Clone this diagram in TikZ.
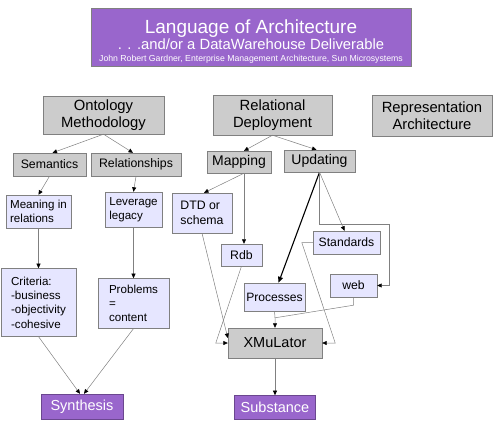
\documentclass[tikz,border=0pt]{standalone}
\usepackage{fontspec}
\setmainfont{Liberation Sans}
\usetikzlibrary{arrows.meta,positioning}
\definecolor{lav}{RGB}{230,230,255}
\definecolor{purp}{RGB}{153,102,204}

\begin{document}
\begin{tikzpicture}[
  x=1pt, y=-1pt,
  box/.style={rectangle, draw=gray, fill=gray!40, inner sep=2pt, align=center},
  bigbox/.style={box, font=\fontsize{14.8}{17}\selectfont},
  subbox/.style={box, font=\fontsize{12.3}{14}\selectfont, minimum height=23pt},
  leafbox/.style={box, fill=lav, align=left, font=\fontsize{11.6}{14.3}\selectfont},
  outbox/.style={rectangle, draw=purp!70!black, fill=purp, text=white, font=\fontsize{14.5}{17}\selectfont, minimum height=25pt},
  arr/.style={draw=gray, line width=0.5pt, -{Triangle[length=4.5pt, width=4pt, color=black]}},
  thickarr/.style={draw=black, line width=1.1pt, -{Triangle[length=6pt, width=5pt]}}
]
\useasboundingbox (0,0) rectangle (504,432);

\node[rectangle, draw=gray, fill=purp, text=white, minimum width=320pt, minimum height=58pt, inner sep=0pt, align=center] (title) at (251,37)
  {\fontsize{19}{22}\selectfont\rule{0pt}{23pt}Language of Architecture\\
   \fontsize{14.8}{22}\selectfont . . .and/or a DataWarehouse Deliverable\\
   \fontsize{8.7}{10}\selectfont John Robert Gardner, Enterprise Management Architecture, Sun Microsystems};

\node[bigbox, minimum width=121pt, minimum height=38pt] (onto) at (103.5,115) {Ontology\\Methodology};
\node[bigbox, minimum width=119pt, minimum height=40pt] (reldep) at (272.5,115) {Relational\\Deployment};
\node[bigbox, minimum width=120pt, minimum height=41pt] (repr) at (432,115.5) {Representation\\Architecture};

\node[subbox, minimum width=73pt] (sem) at (49.5,164.5) {Semantics};
\node[subbox, minimum width=90pt] (rel) at (136,164.5) {Relationships};
\node[subbox, minimum width=64pt, minimum height=22pt, font=\fontsize{14}{16}\selectfont] (map) at (239,162) {Mapping};
\node[subbox, minimum width=71pt, minimum height=22pt, font=\fontsize{14}{16}\selectfont] (upd) at (319.5,161) {Updating};

\node[leafbox, minimum width=65pt, minimum height=33pt] (meaning) at (38.5,211.5) {Meaning in\\relations};
\node[leafbox, minimum width=57pt, minimum height=35pt] (leverage) at (133.5,209.5) {Leverage\\legacy};
\node[leafbox, minimum width=60pt, minimum height=40pt, font=\fontsize{12.3}{15}\selectfont] (dtd) at (202,213) {DTD or\\schema};
\node[leafbox, minimum width=41pt, minimum height=22pt, font=\fontsize{12.3}{15}\selectfont] (rdb) at (241.5,255) {Rdb};
\node[leafbox, minimum width=67pt, minimum height=23pt, font=\fontsize{12.2}{15}\selectfont] (standards) at (346.5,242.5) {Standards};
\node[leafbox, minimum width=47pt, minimum height=23pt, font=\fontsize{12.2}{15}\selectfont] (web) at (353.5,285.5) {web};
\node[leafbox, minimum width=59pt, minimum height=28pt, font=\fontsize{12.1}{15}\selectfont] (processes) at (274.5,297) {Processes};
\node[leafbox, minimum width=75pt, minimum height=68pt, below=40pt of meaning] (criteria) {Criteria:\\-business\\-objectivity\\-cohesive};
\node[leafbox, minimum width=71pt, minimum height=50pt, below=51pt of leverage] (problems) {Problems\\=\\content};

\node[box, minimum width=94pt, minimum height=30pt, font=\fontsize{14.5}{17}\selectfont] (xmu) at (275,343) {XMuLator};
\node[outbox, minimum width=82pt] (synth) at (82,406.5) {Synthesis};
\node[outbox, minimum width=81pt, minimum height=24pt, below=37pt of xmu] (subst) {Substance};

\draw[arr] (onto.south) -- ([xshift=3pt]sem.north);
\draw[arr] (onto.south) -- ([xshift=-3pt]rel.north);
\draw[arr] (reldep.south) -- ([xshift=5pt]map.north);
\draw[arr] (reldep.south) -- ([xshift=-3pt]upd.north);
\draw[arr] (sem.south) -- (meaning.north);
\draw[arr] (rel.south) -- (leverage.north);
\draw[arr] ([xshift=5pt]map.south) -- ([xshift=2pt]dtd.north);
\draw[arr] ([xshift=5pt]map.south) -- ([xshift=2.5pt]rdb.north);
\draw[arr] (meaning.south) -- (criteria.north);
\draw[arr] (leverage.south) -- (problems.north);
\draw[arr] (criteria.south) -- ([xshift=-2pt]synth.north);
\draw[arr] (problems.south) -- ([xshift=2pt]synth.north);
\draw[thickarr] (upd.south) -- ([xshift=4pt]processes.north);
\draw[arr] (upd.south) -- ([xshift=-2pt]standards.north);
\draw[arr] (upd.south) -- ++(0,52) -| ([xshift=12pt]web.east) -- (web.east);
\draw[arr] (standards.west) -- ++(-11,0) -- ([xshift=13pt]xmu.east) -- (xmu.east);
\draw[arr] (rdb.south) -- ([xshift=-12pt]xmu.west) -- (xmu.west);
\draw[arr] (dtd.south) -- ([yshift=5pt]xmu.west);
\draw[draw=gray, line width=0.5pt] (processes.south) -- ([yshift=10pt]xmu.north);
\draw[arr] (web.south) -- ++(0,8) -- ([yshift=10pt]xmu.north) -- (xmu.north);
\draw[arr] (xmu.south) -- (subst.north);

\end{tikzpicture}
\end{document}
